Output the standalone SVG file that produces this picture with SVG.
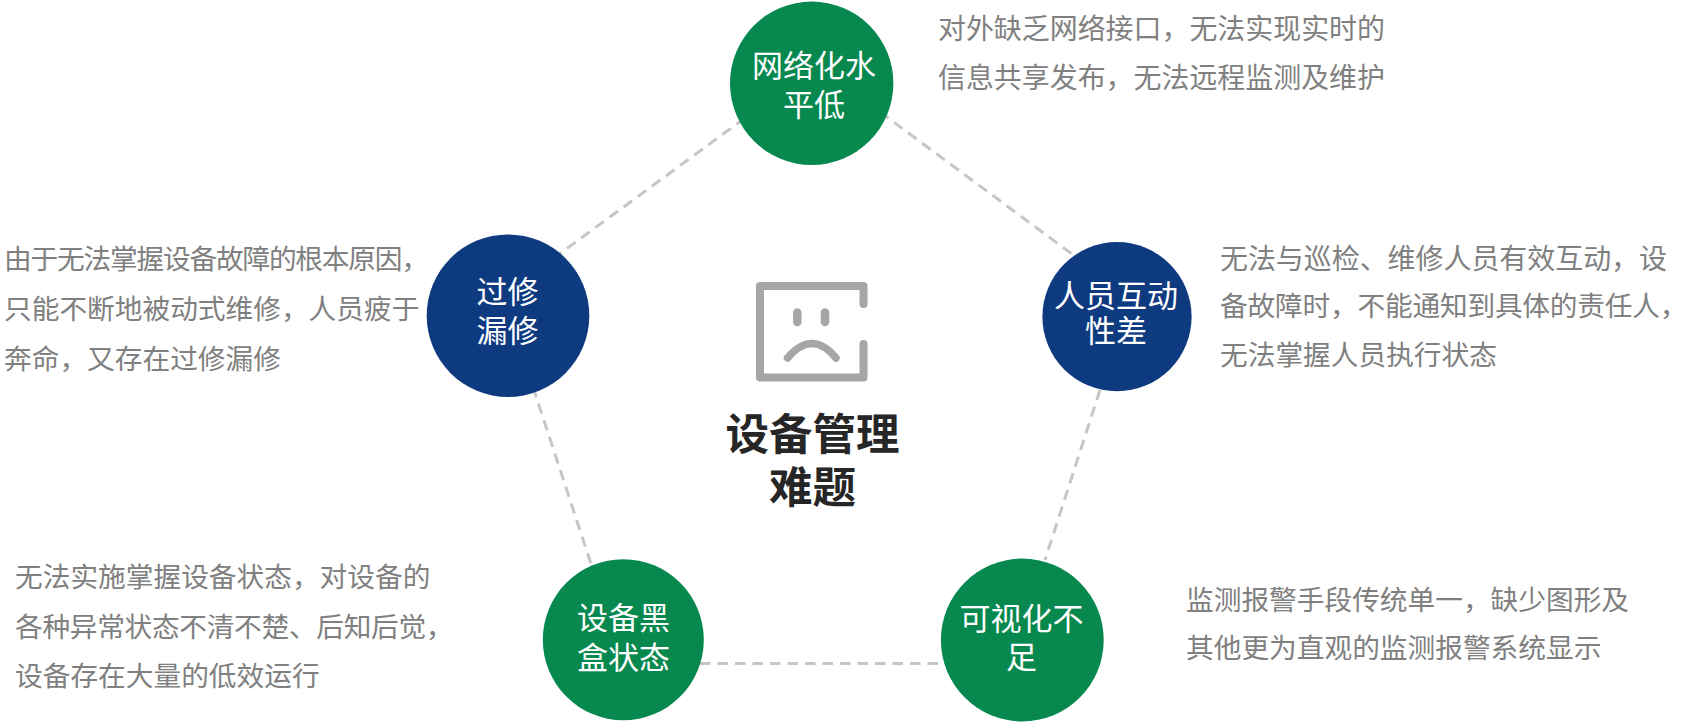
<svg xmlns="http://www.w3.org/2000/svg" width="1690" height="728" viewBox="0 0 1690 728">
<style>
text{font-family:"Noto Sans CJK SC","Liberation Sans",sans-serif}
.n{font-size:31px;fill:#fff;text-anchor:middle}
.d{font-size:27.7px;fill:#808080}
.w{font-size:27.95px}
.t{font-size:43.5px;font-weight:700;fill:#262626;text-anchor:middle}
.g{fill:#06884e}.b{fill:#0e3a80}
.l{stroke:#c6c6c6;stroke-width:3;stroke-dasharray:10.5 7;fill:none}
.i{stroke:#a6a6a6;fill:none;stroke-linecap:round;stroke-linejoin:round}
</style>
<rect width="1690" height="728" fill="#fff"/>
<g id="connectors">
<path class="l" d="M745 118L558 255"/>
<path class="l" d="M880 112L1080 260"/>
<path class="l" d="M1100 390L1045 560"/>
<path class="l" d="M700 663.5L942 663.5"/>
<path class="l" d="M533 387L592 567"/>
</g>
<g id="center">
<path class="i" stroke-width="8" d="M863.5 304V286H760V377.5H863.5V344"/>
<path class="i" stroke-width="8.5" d="M797.3 312.5V322M825 312.5V322"/>
<path class="i" stroke-width="7.5" d="M787.5 358Q812 329 836 358"/>
<text class="t" x="812.5" y="450">设备管理</text>
<text class="t" x="812.5" y="503">难题</text>
</g>
<g id="n1"><circle class="g" cx="811.7" cy="83.3" r="81.7"/><text class="n" x="814" y="77">网络化水</text><text class="n" x="814" y="116">平低</text></g>
<g id="n2"><circle class="b" cx="1117" cy="316.7" r="74.6"/><text class="n" x="1116" y="306.5">人员互动</text><text class="n" x="1116" y="342">性差</text></g>
<g id="n3"><circle class="g" cx="1022.3" cy="640" r="81.4"/><text class="n" x="1021.5" y="629.5">可视化不</text><text class="n" x="1021.5" y="668">足</text></g>
<g id="n4"><circle class="g" cx="623.3" cy="639.7" r="80.5"/><text class="n" x="623.5" y="628.5">设备黑</text><text class="n" x="623.5" y="668.5">盒状态</text></g>
<g id="n5"><circle class="b" cx="508" cy="315.7" r="81.3"/><text class="n" x="507.5" y="303">过修</text><text class="n" x="507.5" y="342">漏修</text></g>
<g id="desc">
<text class="d w" x="938" y="39">对外缺乏网络接口，无法实现实时的</text>
<text class="d w" x="938" y="88">信息共享发布，无法远程监测及维护</text>
<text class="d w" x="1220" y="268.5">无法与巡检、维修人员有效互动，设</text>
<text class="d" x="1220" y="316" letter-spacing="-0.2">备故障时，不能通知到具体的责任人，</text>
<text class="d" x="1220" y="364.5">无法掌握人员执行状态</text>
<text class="d" x="1186" y="610">监测报警手段传统单一，缺少图形及</text>
<text class="d" x="1186" y="658">其他更为直观的监测报警系统显示</text>
<text class="d" x="15" y="587">无法实施掌握设备状态，对设备的</text>
<text class="d" x="15" y="636.5" letter-spacing="-0.3">各种异常状态不清不楚、后知后觉，</text>
<text class="d" x="15" y="686">设备存在大量的低效运行</text>
<text class="d" x="4" y="269" letter-spacing="-1.2">由于无法掌握设备故障的根本原因，</text>
<text class="d" x="4" y="319">只能不断地被动式维修，人员疲于</text>
<text class="d" x="4" y="368.5">奔命，又存在过修漏修</text>
</g>
</svg>
